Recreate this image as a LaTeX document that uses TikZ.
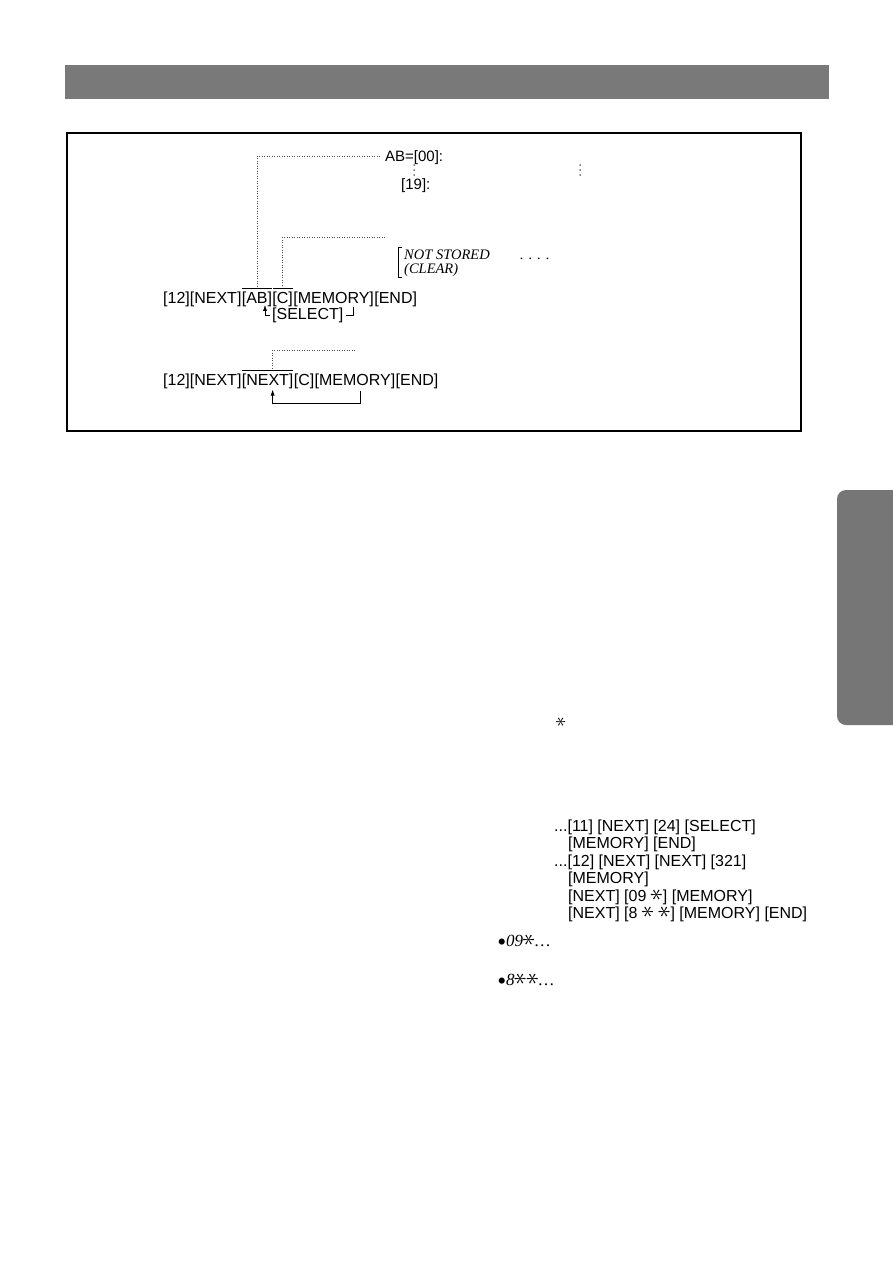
\documentclass[tikz,border=0pt]{standalone}
\usepackage{fontspec}
\setmainfont{Liberation Sans}
\newfontfamily\serifit{Liberation Serif}[UprightFont=*-Italic]
\usepackage{graphicx}
\usetikzlibrary{arrows.meta,calc}
\definecolor{bargray}{RGB}{121,121,121}
\definecolor{tabgray}{RGB}{118,118,118}
\newcommand\hast{\raisebox{-0.05ex}{\scalebox{1.5}{\rotatebox[origin=c]{90}{$\ast$}}}}
\newcommand\bigbul{\raisebox{-0.55ex}{\scalebox{1.5}{\textbullet}}}
\begin{document}
\begin{tikzpicture}[x=1pt,y=-1pt,
  sans/.style={font=\fontsize{16}{18}\selectfont, inner sep=0pt, anchor=base west},
  sanslist/.style={font=\fontsize{15}{18}\selectfont, inner sep=0pt, anchor=base west},
  sansr/.style={font=\fontsize{16}{18}\selectfont, inner sep=0pt, anchor=base west},
  ital/.style={font=\serifit\fontsize{14.5}{16}\selectfont, inner sep=0pt, anchor=base west},
  italb/.style={font=\serifit\fontsize{17}{18}\selectfont, inner sep=0pt, anchor=base west},
  dotline/.style={line width=0.6pt, dash pattern=on 0.7pt off 1.8pt, black!70},
  conn/.style={line width=0.7pt},
  tip/.style={-{Latex[length=6pt,width=4pt]}},
  frame/.style={line width=1.1pt},
  vdot/.style={fill=black, draw=none}]
\useasboundingbox (0,0) rectangle (893,1263);
\fill[white] (0,0) rectangle (893,1263);
% header bar
\fill[bargray] (65,65) rectangle (829,99);
% side tab
\fill[tabgray, rounded corners=9pt] (910,490) -- (837,490) -- (837,725) -- (910,725) -- cycle;
% frame
\draw[frame] (67,133) rectangle (801,431);

% top right list
\node[sanslist] (ab) at (385,161) {AB=[00]:};
\node[sanslist] (n19) at (401,189) {[19]:};
\foreach \yy in {165,170,175} {
  \fill[vdot] (414,\yy) circle (0.75pt);
  \fill[vdot] (580,\yy) circle (0.75pt);
}

% not stored
\node[ital] (ns) at (404,259) {NOT STORED};
\node[ital] (clr) at (404,273) {(CLEAR)};
\node[ital] (dots) at (520,259) {.\hspace{5pt}.\hspace{5pt}.\hspace{5pt}.};
\draw[conn] ($(ns.north west)+(-2,-2)$) -- ($(ns.north west)+(-6,-2)$) -- ($(clr.south west)+(-6,1)$) -- ($(clr.south west)+(-2,1)$);

% row 1
\node[sans] (r1a) at (163,303) {[12][NEXT]};
\node[sans] (r1ab) at (r1a.base east) {[AB]};
\node[sans] (r1c) at (r1ab.base east) {[C]};
\node[sans] (r1m) at (r1c.base east) {[MEMORY]};
\node[sans] (r1e) at (r1m.base east) {[END]};
\draw[conn] ($(r1ab.north west)+(0.5,-2.5)$) -- ($(r1ab.north east)+(-0.5,-2.5)$);
\draw[conn] ($(r1c.north west)+(0.5,-2.5)$) -- ($(r1c.north east)+(-0.5,-2.5)$);
% dotted leaders
\coordinate (d1e) at ($(ab.west)+(-5,-1)$);
\draw[dotline] (d1e) -- (d1e -| r1ab.north) -- ($(r1ab.north)+(0,-4)$);
\coordinate (d2e) at (385,237);
\draw[dotline] (d2e) -- (d2e -| r1c.north) -- ($(r1c.north)+(0,-4)$);

% select loop
\node[sans] (sel) at (272,319) {[SELECT]};
\coordinate (s1) at ($(sel.east)+(2,0)$);
\draw[conn] (s1) -- ++(8,0) -- ++(0,-8);
\coordinate (s2) at ($(sel.west)+(-2,0)$);
\draw[conn,tip] (s2) -- ++(-5,0) -- ++(0,-10);

% row 2
\node[sans] (r2a) at (163,385) {[12][NEXT]};
\node[sans] (r2n) at (r2a.base east) {[NEXT]};
\node[sans] (r2c) at (r2n.base east) {[C]};
\node[sans] (r2m) at (r2c.base east) {[MEMORY]};
\node[sans] (r2e) at (r2m.base east) {[END]};
\draw[conn] ($(r2n.north west)+(0.5,-2.5)$) -- ($(r2n.north east)+(-0.5,-2.5)$);
\coordinate (r2top) at ($(r2n.north)+(5,-4)$);
\coordinate (d3e) at (355,350);
\draw[dotline] (d3e) -- (d3e -| r2top) -- (r2top);
\coordinate (lp) at ($(r2m.south west)+(46,2)$);
\coordinate (r2bot) at ($(r2n.south)+(5,1)$);
\draw[conn,tip] (lp) -- ++(0,13) -| (r2bot);

% right column
\node[font=\fontsize{15}{15}\selectfont, inner sep=0pt] (astx) at (561,722) {\hast};
\node[sansr] (l1) at (554,831) {...[11] [NEXT] [24] [SELECT]};
\node[sansr] (l2) at (568,848) {[MEMORY] [END]};
\node[sansr] (l3) at (554,866) {...[12] [NEXT] [NEXT] [321]};
\node[sansr] (l4) at (568,883) {[MEMORY]};
\node[sansr] (l5) at (568,901) {[NEXT] [09 \hast] [MEMORY]};
\node[sansr] (l6) at (568,918) {[NEXT] [8 \hast\ \hast] [MEMORY] [END]};
\node[italb] (b1) at (497,946) {\bigbul09\hast\ldots};
\node[italb] (b2) at (497,985) {\bigbul8\hast\hast\ldots};
\end{tikzpicture}
\end{document}
